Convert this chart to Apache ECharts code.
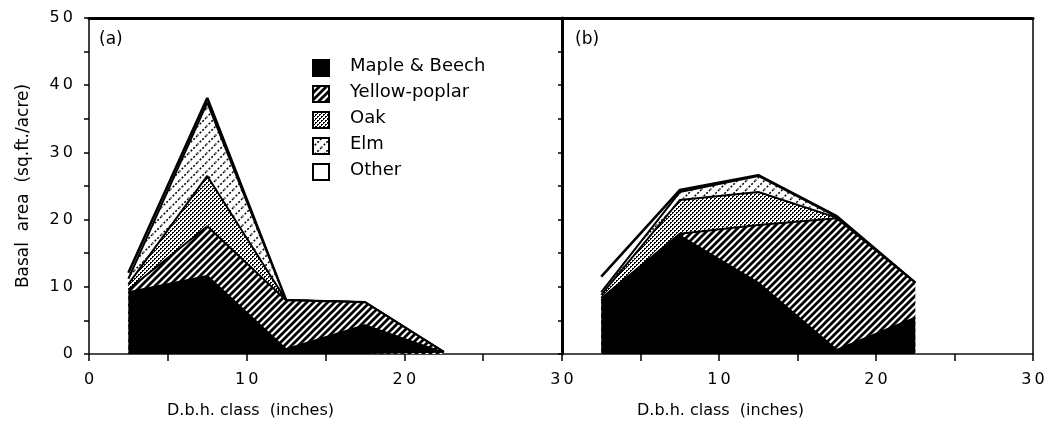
<!DOCTYPE html>
<html>
<head>
<meta charset="utf-8">
<script src="https://cdn.jsdelivr.net/npm/echarts@6/dist/echarts.min.js"></script>
<style>
  html, body { margin: 0; padding: 0; background: #fff; }
  #main { width: 1059px; height: 429px; }
</style>
</head>
<body>
<div id="main"></div>
<script>
// NOTE - Data

const dbhClass = [2.5, 7.5, 12.5, 17.5, 22.5];
const speciesNames = ['Maple & Beech', 'Yellow-poplar', 'Oak', 'Elm', 'Other'];

// panel (a), basal area per species for each d.b.h. class
const mapleA  = [9.2, 11.6, 0.7, 4.3, 0.2];
const poplarA = [0.4, 7.4, 7.3, 3.4, 0.1];
const oakA    = [0.8, 7.5, 0, 0, 0];
const elmA    = [0.8, 10.9, 0, 0, 0];
const otherA  = [0.9, 0.7, 0, 0, 0];

// panel (b)
const mapleB  = [8.0, 17.6, 10.6, 0.6, 5.4];
const poplarB = [0.3, 0.3, 8.6, 19.6, 5.2];
const oakB    = [0.5, 5.0, 4.9, 0.1, 0];
const elmB    = [0.4, 1.2, 2.4, 0.1, 0];
const otherB  = [2.3, 0.3, 0.1, 0.1, 0];

const xTicks = [0, 10, 20, 30];
const yTicks = [0, 10, 20, 30, 40, 50];

// NOTE - Fill patterns

function makeTile(size, draw) {
  const c = document.createElement('canvas');
  c.width = size; c.height = size;
  const ctx = c.getContext('2d');
  ctx.fillStyle = '#fff';
  ctx.fillRect(0, 0, size, size);
  draw(ctx, size);
  return { image: c, repeat: 'repeat' };
}

function diag(ctx, s) {
  ctx.beginPath();
  ctx.moveTo(-1, s + 1); ctx.lineTo(s + 1, -1);
  ctx.moveTo(-1, 1); ctx.lineTo(1, -1);
  ctx.moveTo(s - 1, s + 1); ctx.lineTo(s + 1, s - 1);
  ctx.stroke();
}

const fillMaple = '#000';
const fillPoplar = makeTile(7, function (ctx, s) {
  ctx.strokeStyle = '#000'; ctx.lineWidth = 2.8; diag(ctx, s);
});
const fillOak = makeTile(4, function (ctx) {
  ctx.fillStyle = '#000';
  ctx.fillRect(0, 0, 2, 1); ctx.fillRect(0, 1, 1, 1);
  ctx.fillRect(2, 2, 2, 1); ctx.fillRect(2, 3, 1, 1);
});
const fillElm = makeTile(9, function (ctx, s) {
  ctx.strokeStyle = '#000'; ctx.lineWidth = 1.5;
  ctx.setLineDash([2, 1.8]);
  diag(ctx, s);
});
const fillOther = '#fff';
const fills = [fillMaple, fillPoplar, fillOak, fillElm, fillOther];

// NOTE - Helpers

const FONT = 'DejaVu Sans';

function spaced(v) { return String(v).split('').join('\u2009'); }

// running totals, so each layer's area covers the ones above it
function cumulative(lists) {
  let run = dbhClass.map(() => 0);
  return lists.map(vals => {
    run = run.map((r, i) => r + vals[i]);
    return run.slice();
  });
}

function layerSeries(panel, lists) {
  const tops = cumulative(lists);
  return tops.map((vals, i) => ({
    name: speciesNames[i],
    type: 'line',
    xAxisIndex: panel * 2,
    yAxisIndex: panel * 2,
    symbol: 'none',
    silent: true,
    lineStyle: { color: '#000', width: i === tops.length - 1 ? 2.6 : 2 },
    itemStyle: { color: '#000' },
    areaStyle: { color: fills[i], opacity: 1 },
    z: 10 - i,
    data: dbhClass.map((x, k) => [x, +vals[k].toFixed(2)])
  }));
}

function bottomAxis(grid, hideZero, nameShift) {
  return {
    gridIndex: grid, type: 'value', min: 0, max: 30, interval: 5,
    axisLine: { onZero: false, lineStyle: { color: '#111', width: 1.5 } },
    axisTick: { show: true, length: 7, lineStyle: { color: '#000', width: 1.5 } },
    splitLine: { show: false },
    axisLabel: {
      margin: 18, color: '#000', fontSize: 16, fontFamily: FONT,
      formatter: v => (xTicks.includes(v) && !(hideZero && v === 0)) ? spaced(v) : ''
    },
    name: 'D.b.h. class  (inches)',
    nameLocation: 'middle', nameGap: 49,
    nameTextStyle: { color: '#000', fontSize: 16, fontFamily: FONT, padding: [0, nameShift, 0, 0] }
  };
}

function topAxis(grid) {
  return {
    gridIndex: grid, type: 'value', min: 0, max: 30, position: 'top',
    axisLine: { onZero: false, lineStyle: { color: '#000', width: 3 } },
    axisTick: { show: false }, axisLabel: { show: false }, splitLine: { show: false }
  };
}

function legendGraphic() {
  const items = [];
  speciesNames.forEach((n, i) => {
    const y = 59 + i * 26;
    items.push({
      type: 'rect', left: 312, top: y, z: 100,
      shape: { width: 16, height: 16 },
      style: { fill: fills[i], stroke: '#000', lineWidth: 2 }
    });
    items.push({
      type: 'text', left: 350, top: y - 2, z: 100,
      style: { text: n, font: '18px ' + FONT, fill: '#000' }
    });
  });
  return items;
}

// NOTE - eCharts Init

var myChart = echarts.init(document.getElementById('main'), null, { renderer: 'canvas' });

var option = {
  animation: false,
  backgroundColor: '#fff',
  grid: [
    { left: 89, top: 18, width: 473, height: 336 },
    { left: 562, top: 18, width: 471, height: 336 }
  ],
  xAxis: [bottomAxis(0, false, 150), topAxis(0), bottomAxis(1, true, 154), topAxis(1)],
  yAxis: [
    {
      gridIndex: 0, type: 'value', min: 0, max: 50, interval: 5,
      axisLine: { show: true, onZero: false, lineStyle: { color: '#000', width: 1.5 } },
      axisTick: { show: true, length: 5, lineStyle: { color: '#000', width: 1.5 } },
      splitLine: { show: false },
      axisLabel: {
        margin: 16, color: '#000', fontSize: 16, fontFamily: FONT,
        formatter: v => yTicks.includes(v) ? spaced(v) : ''
      },
      name: 'Basal  area  (sq.ft./acre)',
      nameLocation: 'middle', nameGap: 57,
      nameTextStyle: { color: '#000', fontSize: 17, fontFamily: FONT }
    },
    {
      gridIndex: 0, type: 'value', min: 0, max: 50, position: 'right', show: false
    },
    {
      gridIndex: 1, type: 'value', min: 0, max: 50, interval: 5,
      axisLine: { show: true, onZero: false, lineStyle: { color: '#000', width: 3 } },
      axisTick: { show: true, length: 4, lineStyle: { color: '#000', width: 1.5 } },
      splitLine: { show: false },
      axisLabel: { show: false }
    },
    {
      gridIndex: 1, type: 'value', min: 0, max: 50, position: 'right',
      axisLine: { show: true, onZero: false, lineStyle: { color: '#000', width: 1.5 } },
      axisTick: { show: false }, axisLabel: { show: false }, splitLine: { show: false }
    }
  ],
  graphic: [
    { type: 'text', left: 99, top: 31, style: { text: '(a)', font: '17px ' + FONT, fill: '#000' } },
    { type: 'text', left: 575, top: 31, style: { text: '(b)', font: '17px ' + FONT, fill: '#000' } }
  ].concat(legendGraphic()),
  series: layerSeries(0, [mapleA, poplarA, oakA, elmA, otherA])
    .concat(layerSeries(1, [mapleB, poplarB, oakB, elmB, otherB]))
};

myChart.setOption(option);
</script>
</body>
</html>
